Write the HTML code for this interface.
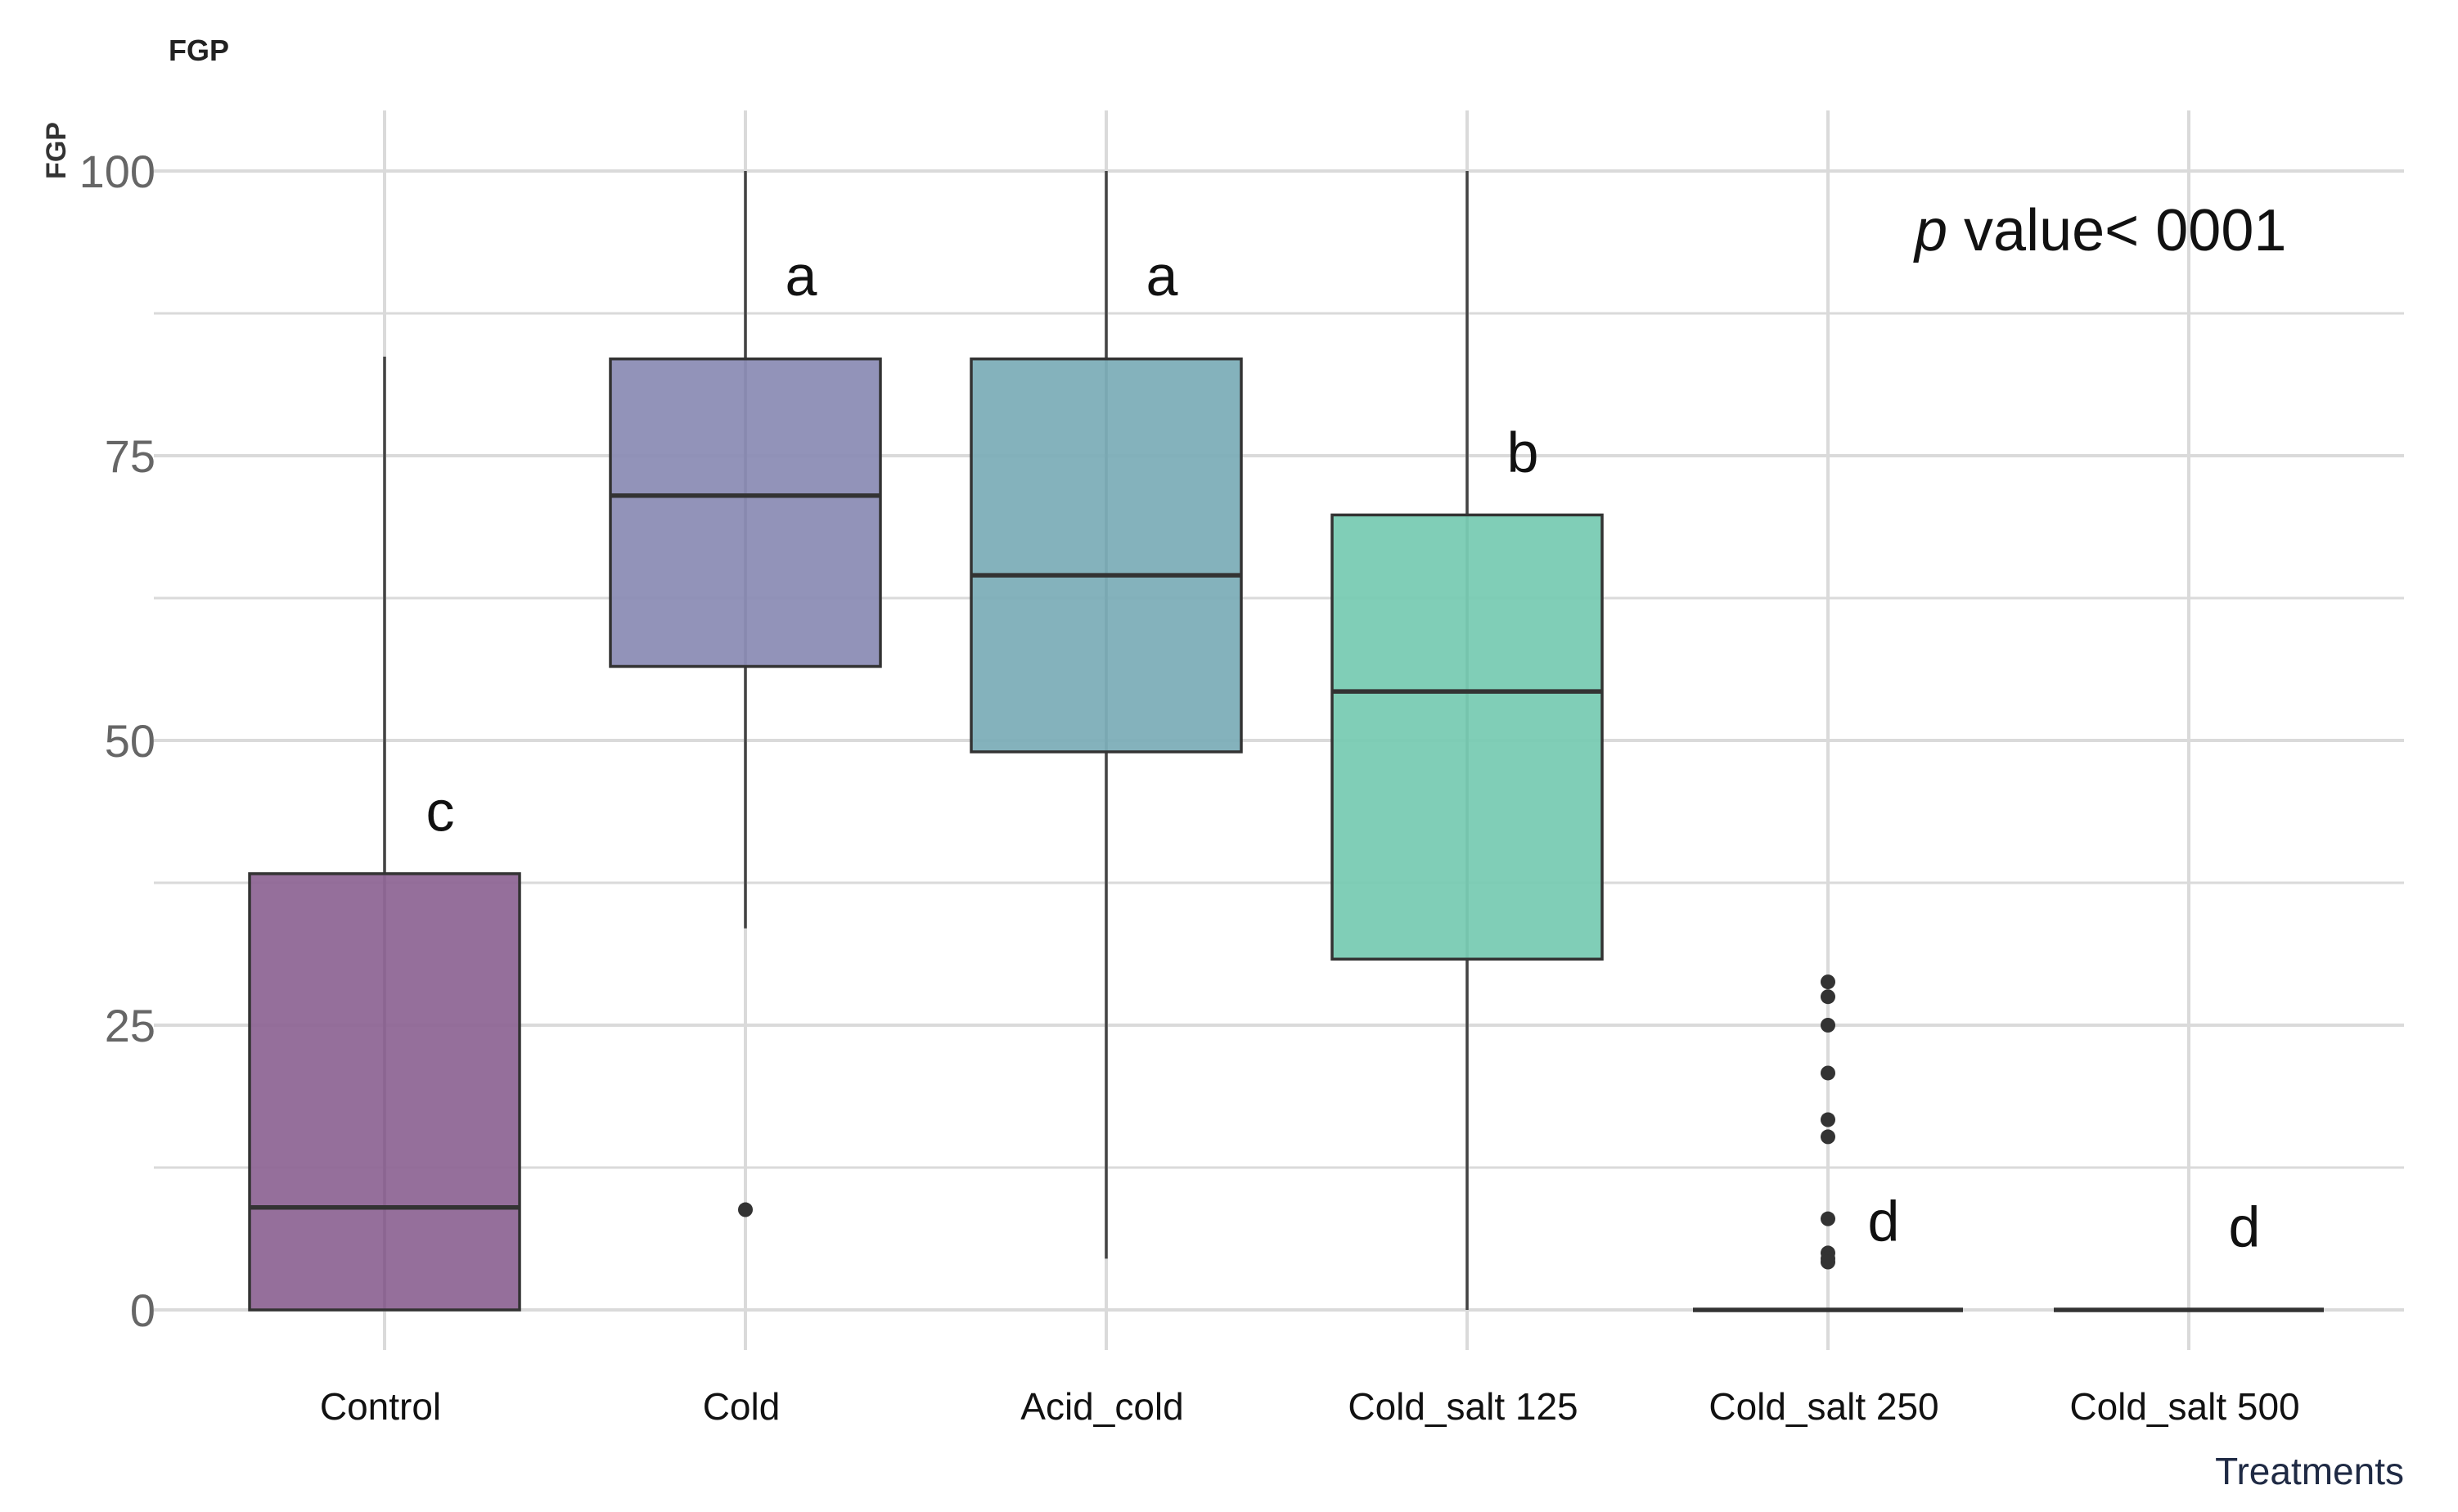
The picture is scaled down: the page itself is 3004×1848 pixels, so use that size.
<!DOCTYPE html>
<html><head><meta charset="utf-8"><style>
html,body{margin:0;padding:0;background:#fff;}
svg{display:block;font-family:"Liberation Sans",sans-serif;}
</style></head><body>
<svg id="chart" width="3004" height="1848" viewBox="0 0 3004 1848">
<text x="206" y="74" font-size="36" font-weight="bold" fill="#222">FGP</text>
<text transform="translate(80,184) rotate(-90)" text-anchor="middle" font-size="34" font-weight="bold" fill="#333">FGP</text>
<text x="2938" y="1814" text-anchor="end" font-size="46" fill="#1f2a44">Treatments</text>
<text x="2340" y="306" font-size="72" fill="#111"><tspan font-style="italic">p</tspan> value&lt; 0001</text>
<g id="grid"></g><g id="boxes"></g><g id="labels"></g>
</svg>
<script>
const categories=["Control","Cold","Acid_cold","Cold_salt 125","Cold_salt 250","Cold_salt 500"];
const lowWhisker=[0,33.5,4.5,0,0,0];
const q1=[0,56.5,49,30.8,0,0];
const medians=[9,71.5,64.5,54.3,0,0];
const q3=[38.3,83.5,83.5,69.8,0,0];
const highWhisker=[83.7,100,100,100,0,0];
const outliers=[[],[8.8],[],[],[28.8,27.5,25,20.8,16.7,15.2,8,5,4.5,4.2],[]];
const letters=["c","a","a","b","d","d"];
const letterValues=[43.5,90.5,90.5,75,7.5,7];
const yTicks=[0,25,50,75,100];
const colors=["#8f6796","#8c8db5","#7daeb8","#79cbb3","#79cbb3","#79cbb3"];
const NS="http://www.w3.org/2000/svg";
const y=v=>1601-v*13.92;
const x=i=>470+i*441;
const L=188,R=2938;
function mk(tag,attrs,parent){const e=document.createElementNS(NS,tag);for(const k in attrs)e.setAttribute(k,attrs[k]);parent.appendChild(e);return e;}
const grid=document.getElementById('grid'),boxes=document.getElementById('boxes'),labels=document.getElementById('labels');
for(let t=0;t<=100;t+=12.5){
 const major=yTicks.includes(t);
 const l=mk('line',{x1:L,x2:R,y1:y(t),y2:y(t),stroke:'#dadada','stroke-width':major?4:3},grid);
 
 
}
yTicks.forEach(t=>{
 const tx=mk('text',{x:190,y:y(t)+20,'text-anchor':'end','font-size':56,fill:'#666'},labels);
 tx.textContent=t;
 
 
});
categories.forEach((c,i)=>{
 const cx=x(i);
 const g=mk('line',{x1:cx,x2:cx,y1:135,y2:1650,stroke:'#dadada','stroke-width':4},grid);
 
 
 const w=mk('line',{x1:cx,x2:cx,y1:y(highWhisker[i]),y2:y(lowWhisker[i]),stroke:'#444','stroke-width':3.5},boxes);
 
 
 const hw=165;
 const b=mk('rect',{x:cx-hw,y:y(q3[i]),width:hw*2,height:Math.max(0,y(q1[i])-y(q3[i])),fill:colors[i],'fill-opacity':0.95,stroke:'#333','stroke-width':3.5},boxes);
 
 
 const m=mk('line',{x1:cx-hw,x2:cx+hw,y1:y(medians[i]),y2:y(medians[i]),stroke:'#333','stroke-width':5.5},boxes);
 
 
 outliers[i].forEach(v=>{
  const p=mk('circle',{cx:cx,cy:y(v),r:9,fill:'#333'},boxes);
  
  
 });
 const lt=mk('text',{x:cx+68,y:y(letterValues[i])+20,'text-anchor':'middle','font-size':70,fill:'#111'},labels);
 lt.textContent=letters[i];
 
 
 const xl=mk('text',{x:cx-5,y:1735,'text-anchor':'middle','font-size':46,fill:'#111'},labels);
 xl.textContent=c;
 
 
});
</script>
</body></html>
